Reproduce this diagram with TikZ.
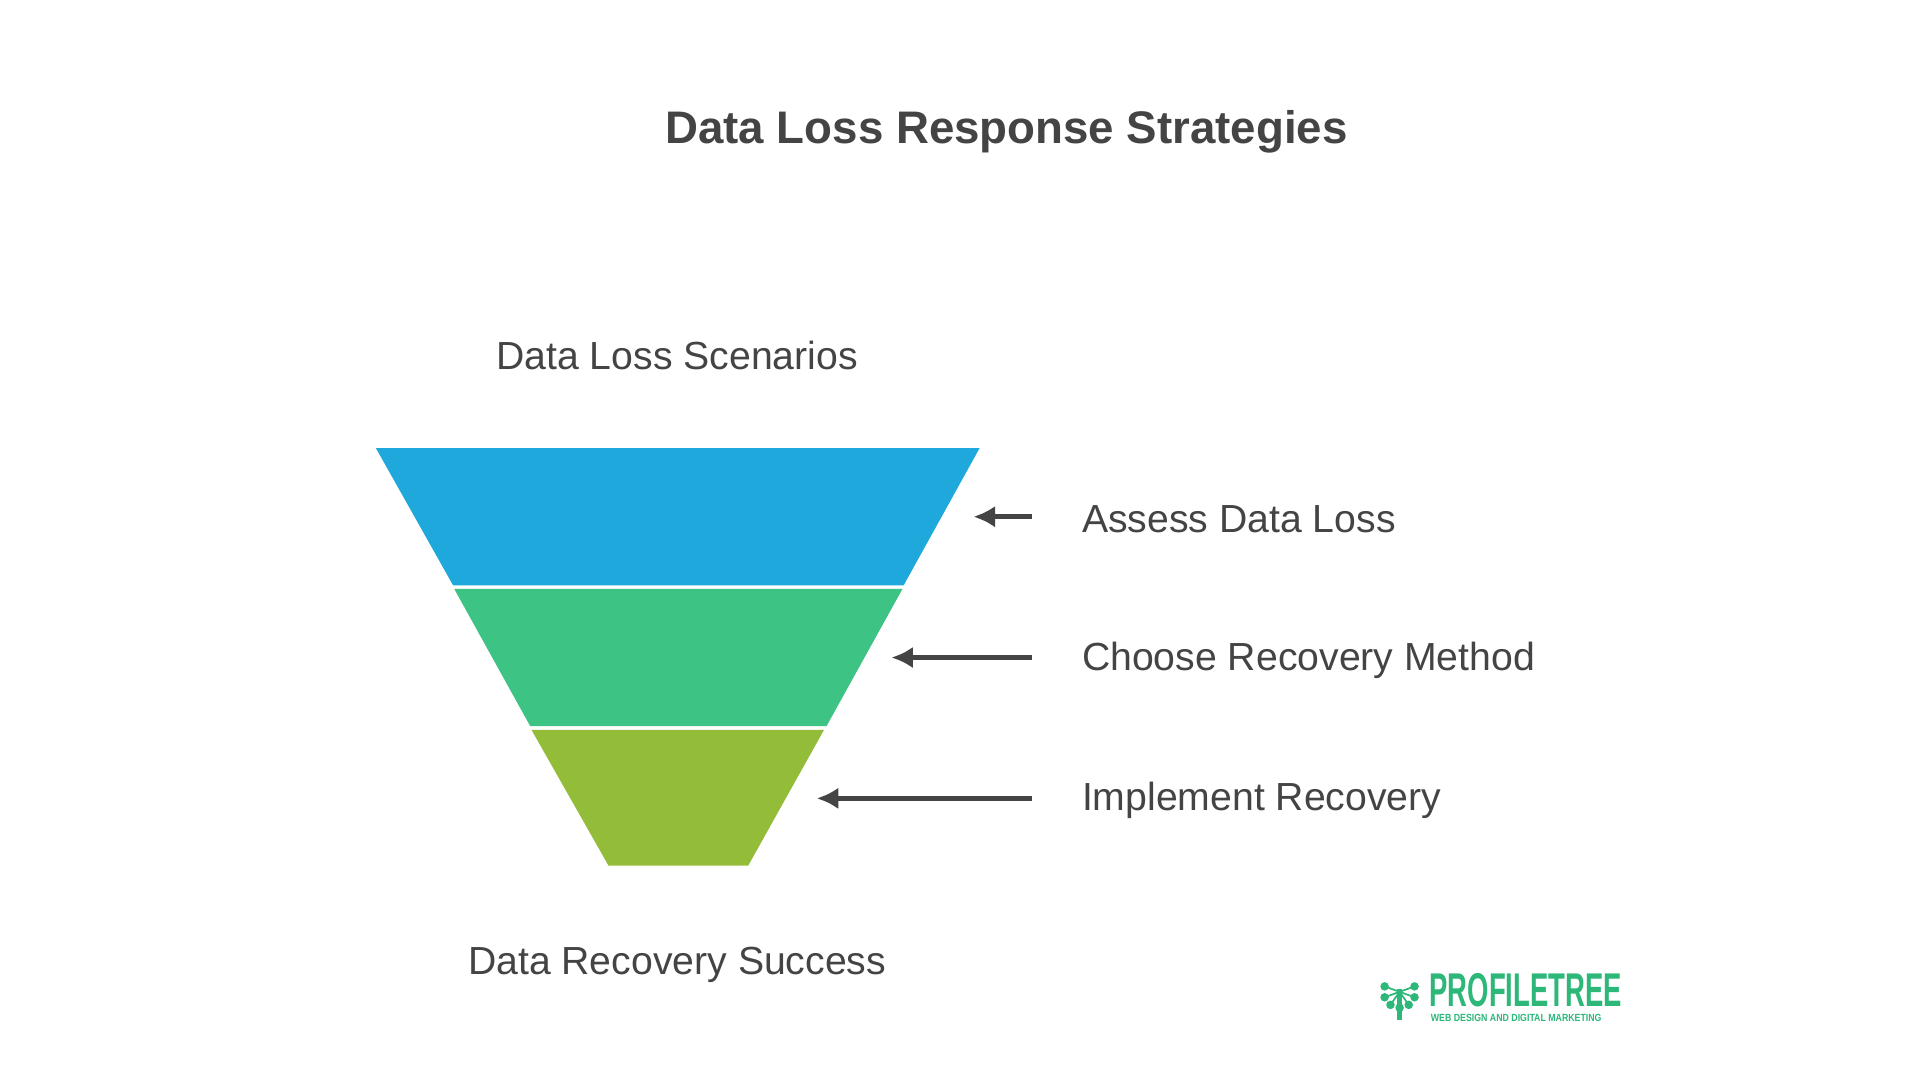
\documentclass[tikz,border=0pt]{standalone}
\usepackage{fontspec}
\setmainfont{Liberation Sans}
\usetikzlibrary{arrows.meta}
\definecolor{cblue}{HTML}{1EA8DB}
\definecolor{cgreen}{HTML}{3DC383}
\definecolor{colive}{HTML}{93BD38}
\definecolor{ctext}{HTML}{444444}
\definecolor{clogo}{HTML}{2DB87A}
\begin{document}
\begin{tikzpicture}[x=0.01cm,y=-0.01cm,
  lbl/.style={text=ctext,font=\fontsize{9.1}{11}\selectfont,anchor=west,inner sep=0},
  arr/.style={draw=ctext,line width=1.1pt,-{Latex[length=5pt,width=5pt]}}]
\useasboundingbox[fill=white] (0,0) rectangle (1568,882);
\node[text=ctext,font=\bfseries\fontsize{10.6}{13}\selectfont] (title) at (822,108) {Data Loss Response Strategies};
\node[text=ctext,font=\fontsize{9.1}{11}\selectfont] (top) at (553,290) {Data Loss Scenarios};
\node[text=ctext,font=\fontsize{9.1}{11}\selectfont] (bot) at (553,788) {Data Recovery Success};
\fill[cblue] (307,366) -- (800,366) -- (738,478) -- (370,478) -- cycle;
\fill[cgreen] (371,481) -- (737,481) -- (675,593) -- (433,593) -- cycle;
\fill[colive] (434,596) -- (673,596) -- (611,707) -- (497,707) -- cycle;
\coordinate (t1) at (795,422); \coordinate (t2) at (728,537); \coordinate (t3) at (667,652);
\node[lbl] (l1) at (883,424) {Assess Data Loss};
\node[lbl] (l2) at (883,539) {Choose Recovery Method};
\node[lbl] (l3) at (883,654) {Implement Recovery};
\coordinate (s1) at (843,422); \coordinate (s2) at (843,537); \coordinate (s3) at (843,652);
\draw[arr] (s1) -- (t1);
\draw[arr] (s2) -- (t2);
\draw[arr] (s3) -- (t3);
% logo
\node[anchor=west,inner sep=0,text=clogo,font=\bfseries\fontsize{11}{12}\selectfont,xscale=0.58] (logo) at (1167,809) {PROFILETREE};
\node[anchor=west,inner sep=0,text=clogo,font=\bfseries\fontsize{2.4}{3}\selectfont,xscale=0.85] (logosub) at (1168,831) {WEB DESIGN AND DIGITAL MARKETING};
\draw[clogo,line width=1.2pt] (1143,833) -- (1143,808);
\foreach \a in {20,55,90,125,160,200,-20}{\draw[clogo,line width=0.4pt] (1143,810) -- ++(\a:13) node[circle,fill=clogo,inner sep=0.7pt]{};}
\end{tikzpicture}
\end{document}
